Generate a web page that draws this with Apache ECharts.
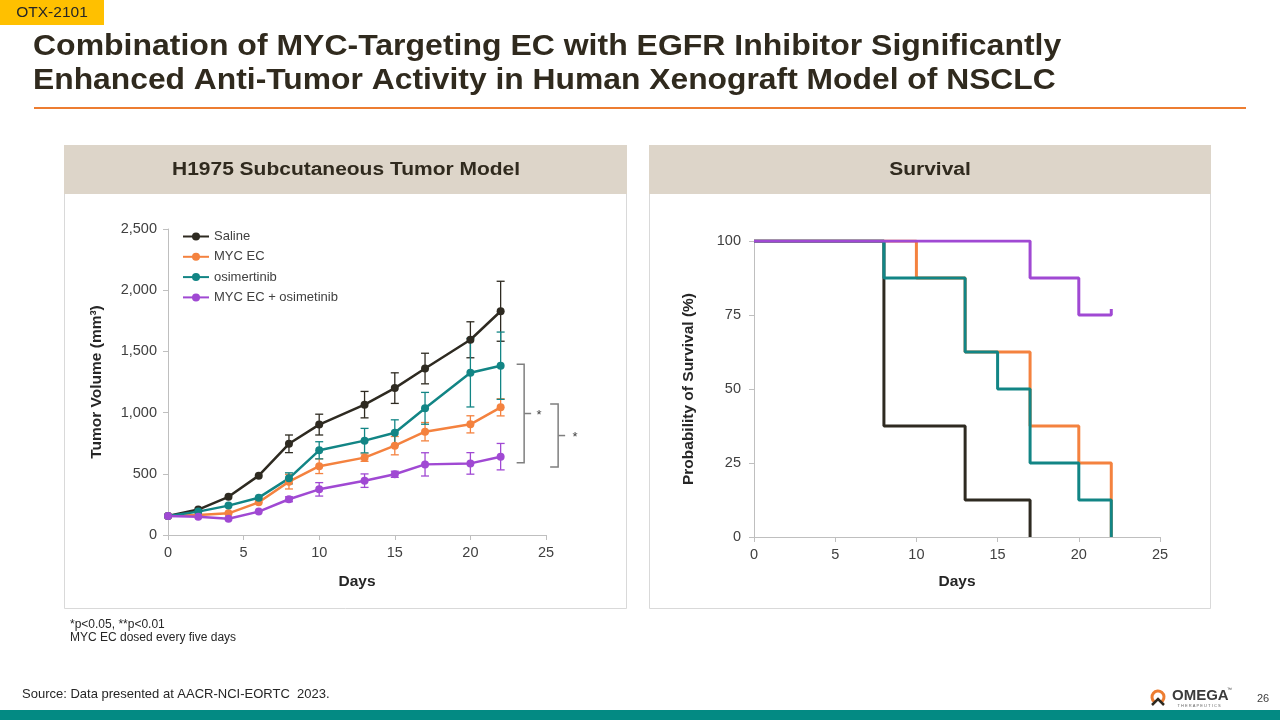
<!DOCTYPE html>
<html><head><meta charset="utf-8">
<script src="https://cdn.jsdelivr.net/npm/echarts@6/dist/echarts.min.js"></script>
<style>html,body{margin:0;padding:0;background:#fff}#c{width:1280px;height:720px}</style>
</head><body><div id="c"></div>
<script>
// ---------- data ----------
const days = [0, 2, 4, 6, 8, 10, 13, 15, 17, 20, 22];
const seriesNames = ['Saline', 'MYC EC', 'osimertinib', 'MYC EC + osimetinib'];
const salineMean = [155, 208, 312, 485, 745, 902, 1065, 1200, 1360, 1595, 1828];
const salineErr  = [0, 0, 0, 0, 72, 85, 108, 125, 125, 147, 245];
const mycMean    = [155, 163, 177, 267, 436, 562, 632, 730, 844, 904, 1043];
const mycErr     = [0, 0, 0, 0, 60, 60, 30, 75, 75, 70, 70];
const osiMean    = [155, 191, 240, 305, 463, 692, 771, 836, 1035, 1326, 1383];
const osiErr     = [0, 0, 0, 0, 45, 70, 100, 105, 130, 280, 275];
const comboMean  = [155, 150, 133, 191, 292, 373, 444, 496, 577, 585, 640];
const comboErr   = [0, 0, 0, 0, 20, 55, 55, 25, 95, 88, 108];

// survival (Kaplan-Meier steps)
const salineT = [0, 8, 13, 17];             const salineS = [100, 37.5, 12.5, 0];
const mycT    = [0, 10, 13, 17, 20, 22];    const mycS    = [100, 87.5, 62.5, 37.5, 25, 0];
const osiT    = [0, 8, 13, 15, 17, 20, 22]; const osiS    = [100, 87.5, 62.5, 50, 25, 12.5, 0];
const comboT  = [0, 17, 20, 22, 22];        const comboS  = [100, 87.5, 75, 75, 77]; // last point = censor tick

// significance brackets (value ranges at day 22)
const bracketA = [1395, 590];
const bracketB = [1070, 555];
const bracketLabel = '*';

const volTicks = [0, 500, 1000, 1500, 2000, 2500];
const survTicks = [0, 25, 50, 75, 100];

// ---------- styling ----------
const colors = ['#2e2a21', '#f4823f', '#128585', '#a049d3'];
const FONT = '"Liberation Sans", Arial, sans-serif';
const axisGray = '#bfbfbf';
const labelColor = '#404040';

const chart = echarts.init(document.getElementById('c'), null, {renderer: 'canvas'});

function pairs(xs, ys) { return xs.map((x, i) => [x, ys[i]]); }

function errSeries(mean, err, color) {
  const data = [];
  days.forEach((d, i) => { if (err[i] > 0) data.push([d, mean[i] - err[i], mean[i] + err[i]]); });
  return {
    type: 'custom', xAxisIndex: 0, yAxisIndex: 0, silent: true, data,
    renderItem(params, api) {
      const x = api.value(0);
      const lo = api.coord([x, api.value(1)]);
      const hi = api.coord([x, api.value(2)]);
      const w = 4;
      const st = {stroke: color, lineWidth: 1.3};
      return {type: 'group', children: [
        {type: 'line', shape: {x1: lo[0], y1: lo[1], x2: hi[0], y2: hi[1]}, style: st},
        {type: 'line', shape: {x1: lo[0] - w, y1: lo[1], x2: lo[0] + w, y2: lo[1]}, style: st},
        {type: 'line', shape: {x1: hi[0] - w, y1: hi[1], x2: hi[0] + w, y2: hi[1]}, style: st}
      ]};
    }
  };
}

function volSeries(idx, mean) {
  return {
    type: 'line', name: seriesNames[idx], xAxisIndex: 0, yAxisIndex: 0,
    data: pairs(days, mean), symbol: 'circle', symbolSize: 8, showSymbol: true,
    lineStyle: {color: colors[idx], width: 2.5}, itemStyle: {color: colors[idx]}
  };
}

function survSeries(idx, t, s) {
  return {
    type: 'line', xAxisIndex: 1, yAxisIndex: 1, step: 'end', showSymbol: false, symbol: 'none',
    data: pairs(t, s), lineStyle: {color: colors[idx], width: 3}, itemStyle: {color: colors[idx]}
  };
}

function axisCommon(margin) {
  return {
    axisLine: {show: true, lineStyle: {color: axisGray, width: 1}},
    axisTick: {show: true, inside: false, length: 5, lineStyle: {color: axisGray}},
    splitLine: {show: false},
    axisLabel: {color: labelColor, fontSize: 14.5, fontFamily: FONT, margin: margin},
    nameTextStyle: {color: '#262626', fontSize: 15.5, fontWeight: 'bold', fontFamily: FONT}
  };
}

function txt(text, x, y, font, opts) {
  opts = opts || {};
  return {type: 'text', x: x, y: y, scaleX: opts.sx || 1,
    style: {text: text, x: 0, y: 0, textAlign: opts.align || 'left', textVerticalAlign: 'middle', verticalAlign: 'middle',
      font: font, fill: opts.fill || '#262626'}};
}

const gfx = [
  // OTX tag
  {type: 'rect', shape: {x: 0, y: 0, width: 104, height: 25}, style: {fill: '#ffc000'}},
  txt('OTX-2101', 52, 13, '15.5px ' + FONT, {align: 'center'}),
  // title
  txt('Combination of MYC-Targeting EC with EGFR Inhibitor Significantly', 33, 47, 'bold 29px ' + FONT, {sx: 1.103, fill: '#302a1e'}),
  txt('Enhanced Anti-Tumor Activity in Human Xenograft Model of NSCLC', 33, 81, 'bold 29px ' + FONT, {sx: 1.097, fill: '#302a1e'}),
  {type: 'rect', shape: {x: 34, y: 107, width: 1212, height: 2}, style: {fill: '#ed7d31'}},
  // panels
  {type: 'rect', shape: {x: 64.5, y: 145.5, width: 562, height: 463}, style: {fill: '#fff', stroke: '#d9d9d9', lineWidth: 1}, z: -10},
  {type: 'rect', shape: {x: 64, y: 145, width: 563, height: 49}, style: {fill: '#ddd5c9'}, z: -9},
  txt('H1975 Subcutaneous Tumor Model', 346, 170, 'bold 18px ' + FONT, {align: 'center', sx: 1.165, fill: '#302a1e'}),
  {type: 'rect', shape: {x: 649.5, y: 145.5, width: 561, height: 463}, style: {fill: '#fff', stroke: '#d9d9d9', lineWidth: 1}, z: -10},
  {type: 'rect', shape: {x: 649, y: 145, width: 562, height: 49}, style: {fill: '#ddd5c9'}, z: -9},
  txt('Survival', 930, 170, 'bold 18px ' + FONT, {align: 'center', sx: 1.165, fill: '#302a1e'}),
  // footnotes
  txt('*p<0.05, **p<0.01', 70, 625, '12px ' + FONT),
  txt('MYC EC dosed every five days', 70, 638, '12px ' + FONT),
  txt('Source: Data presented at AACR-NCI-EORTC  2023.', 22, 694, '13px ' + FONT),
  // bottom bar
  {type: 'rect', shape: {x: 0, y: 710, width: 1280, height: 10}, style: {fill: '#038a83'}},
  txt('26', 1263, 699, '11px ' + FONT, {align: 'center', fill: '#404040'}),
  // logo
  {type: 'arc', shape: {cx: 1158, cy: 697, r: 6, startAngle: Math.PI * 0.72, endAngle: Math.PI * 2.28}, style: {stroke: '#ed7d31', lineWidth: 3, fill: 'none'}},
  {type: 'polyline', shape: {points: [[1152, 705], [1158, 699], [1164, 705]]}, style: {stroke: '#2e2a21', lineWidth: 2.5, fill: 'none'}},
  txt('OMEGA', 1172, 696, 'bold 15px ' + FONT, {fill: '#3b3b3b'}),
  txt('™', 1227, 690, '5px ' + FONT, {fill: '#3b3b3b'}),
  txt('T H E R A P E U T I C S', 1199, 706, '4px ' + FONT, {align: 'center', fill: '#666'})
];

const option = {
  animation: false,
  backgroundColor: '#ffffff',
  textStyle: {fontFamily: FONT},
  grid: [
    {left: 168, top: 229, width: 378, height: 306, containLabel: false},
    {left: 754, top: 241, width: 406, height: 296, containLabel: false}
  ],
  legend: {
    data: seriesNames, orient: 'vertical', left: 182, top: 230, padding: 0, itemWidth: 26, itemHeight: 10,
    itemGap: 7.3, textStyle: {color: labelColor, fontSize: 13, fontFamily: FONT}, selectedMode: false
  },
  xAxis: [
    Object.assign(axisCommon(10.5), {type: 'value', gridIndex: 0, min: 0, max: 25, interval: 5,
      name: 'Days', nameLocation: 'middle', nameGap: 39}),
    Object.assign(axisCommon(10.5), {type: 'value', gridIndex: 1, min: 0, max: 25, interval: 5,
      name: 'Days', nameLocation: 'middle', nameGap: 37})
  ],
  yAxis: [
    Object.assign(axisCommon(11), {type: 'value', gridIndex: 0, min: volTicks[0], max: volTicks[volTicks.length - 1], interval: 500,
      name: 'Tumor Volume (mm³)', nameLocation: 'middle', nameGap: 63,
      axisLabel: {color: labelColor, fontSize: 14.5, fontFamily: FONT, margin: 11,
        formatter: v => v.toLocaleString('en-US')}}),
    Object.assign(axisCommon(13), {type: 'value', gridIndex: 1, min: survTicks[0], max: survTicks[survTicks.length - 1], interval: 25,
      name: 'Probability of Survival (%)', nameLocation: 'middle', nameGap: 57})
  ],
  series: [
    volSeries(0, salineMean), errSeries(salineMean, salineErr, colors[0]),
    volSeries(1, mycMean), errSeries(mycMean, mycErr, colors[1]),
    volSeries(2, osiMean), errSeries(osiMean, osiErr, colors[2]),
    volSeries(3, comboMean), errSeries(comboMean, comboErr, colors[3]),
    survSeries(0, salineT, salineS),
    survSeries(1, mycT, mycS),
    survSeries(2, osiT, osiS),
    survSeries(3, comboT, comboS)
  ],
  graphic: gfx
};
chart.setOption(option);

// brackets placed via the chart's own scales
function bracket(range, dx1, dx2, tickLen, starDx) {
  const lastDay = days[days.length - 1];
  const top = chart.convertToPixel({gridIndex: 0}, [lastDay, range[0]]);
  const bot = chart.convertToPixel({gridIndex: 0}, [lastDay, range[1]]);
  const x0 = top[0] + dx1, x1 = top[0] + dx2, mid = (top[1] + bot[1]) / 2;
  const st = {stroke: '#7f7f7f', lineWidth: 1.5, fill: 'none'};
  return [
    {type: 'polyline', shape: {points: [[x0, top[1]], [x1, top[1]], [x1, bot[1]], [x0, bot[1]]]}, style: st},
    {type: 'line', shape: {x1: x1, y1: mid, x2: x1 + tickLen, y2: mid}, style: st},
    txt(bracketLabel, top[0] + starDx, mid + 2, '13px ' + FONT, {align: 'center', fill: '#404040'})
  ];
}
chart.setOption({graphic: gfx.concat(bracket(bracketA, 16, 23.5, 7, 38.5), bracket(bracketB, 49.5, 57.5, 7, 74.5))});
</script></body></html>
